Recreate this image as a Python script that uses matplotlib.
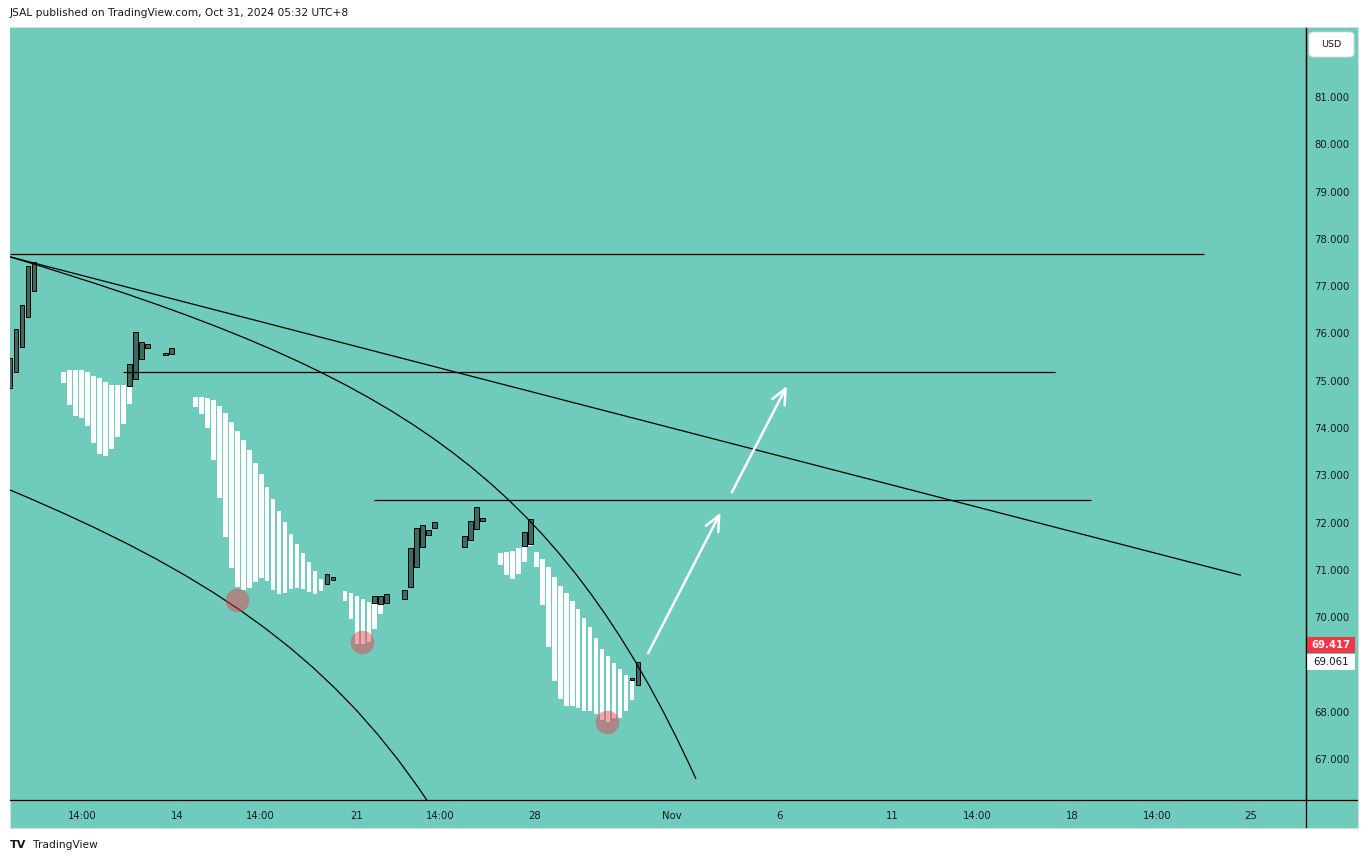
import numpy as np
import matplotlib
matplotlib.use("Agg")
import matplotlib.pyplot as plt
from matplotlib.patches import Rectangle, FancyBboxPatch, PathPatch
from matplotlib.path import Path
from matplotlib.transforms import blended_transform_factory

plt.rcParams['font.family'] = ['DejaVu Sans']

# 4h candles, x = candle index; white = falling bars, dark = rising bars
white_k = [8, 9, 10, 11, 12, 13, 14, 15, 16, 17, 18, 19,
           30, 31, 32, 33, 34, 35, 36, 37, 38, 39, 40, 41, 42, 43, 44, 45, 46, 47, 48, 49, 50, 51, 52,
           55, 56, 57, 58, 59, 60, 61,
           81, 82, 83, 84, 85, 86, 87, 88, 89, 90, 91, 92, 93, 94, 95, 96, 97, 98, 99, 100, 101, 102, 103, 104]
white_hi = [75.19, 75.23, 75.23, 75.23, 75.19, 75.10, 75.06, 74.97, 74.91, 74.91, 74.91, 74.89,
            74.66, 74.66, 74.64, 74.59, 74.47, 74.32, 74.13, 73.94, 73.75, 73.54, 73.26, 73.03, 72.75,
            72.50, 72.25, 72.01, 71.76, 71.55, 71.36, 71.17, 70.98, 70.81, 70.70,
            70.55, 70.51, 70.45, 70.39, 70.32, 70.30, 70.28,
            71.36, 71.38, 71.40, 71.46, 71.51, 71.55, 71.38, 71.23, 71.06, 70.85, 70.66, 70.51, 70.34,
            70.17, 69.98, 69.79, 69.56, 69.33, 69.18, 69.03, 68.90, 68.78, 68.67, 68.57]
white_lo = [74.95, 74.49, 74.25, 74.21, 74.04, 73.68, 73.45, 73.41, 73.56, 73.81, 74.09, 74.51,
            74.45, 74.30, 74.00, 73.32, 72.52, 71.70, 71.04, 70.64, 70.58, 70.62, 70.74, 70.83, 70.77,
            70.58, 70.49, 70.51, 70.60, 70.62, 70.60, 70.53, 70.49, 70.55, 70.68,
            70.34, 69.96, 69.43, 69.43, 69.48, 69.75, 70.07,
            71.10, 70.89, 70.81, 70.91, 71.17, 71.51, 71.06, 70.26, 69.37, 68.65, 68.27, 68.12, 68.12,
            68.08, 68.02, 68.02, 67.95, 67.83, 67.78, 67.87, 67.87, 68.02, 68.25, 68.55]

dark_k = [-1, 0, 1, 2, 3, 19, 20, 21, 22, 25, 26, 52, 53, 60, 61, 62, 65, 66, 67, 68, 69, 70,
          75, 76, 77, 78, 85, 86, 103, 104]
dark_hi = [75.48, 76.09, 76.60, 77.43, 77.51, 75.35, 76.03, 75.82, 75.78, 75.59, 75.69, 70.91, 70.85,
           70.45, 70.45, 70.49, 70.58, 71.46, 71.89, 71.95, 71.84, 72.01, 71.72, 72.03, 72.33, 72.10,
           71.80, 72.08, 68.71, 69.05]
dark_lo = [74.85, 75.18, 75.71, 76.35, 76.90, 74.89, 75.04, 75.46, 75.69, 75.54, 75.57, 70.70, 70.79,
           70.30, 70.28, 70.30, 70.39, 70.64, 71.06, 71.48, 71.74, 71.89, 71.48, 71.63, 71.87, 72.03,
           71.51, 71.55, 68.67, 68.57]

# drawings
hlines_y = [77.67, 75.19, 72.47]
hlines_x0 = [-1.0, 17.9, 59.9]
hlines_x1 = [198.7, 173.7, 179.8]
trend_k = [-1.0, 204.7]
trend_p = [77.62, 70.89]
upper_curve = [(-1.0, 77.62), (62.5, 75.20), (90.3, 73.09), (113.7, 66.58)]
lower_curve = [(-1.0, 72.69), (30.8, 71.00), (52.0, 69.30), (68.7, 66.13)]
arrows = [((105.7, 69.24), (117.8, 72.21)), ((119.7, 72.64), (128.9, 74.89))]
dot_k = [37.0, 57.9, 98.8]
dot_p = [70.36, 69.48, 67.78]

price_ticks = [67, 68, 70, 71, 72, 73, 74, 75, 76, 77, 78, 79, 80, 81]
time_ticks = [11.0, 26.9, 40.8, 56.9, 70.9, 86.8, 109.7, 127.6, 146.5, 160.7, 176.6, 190.8, 206.5]
time_labels = ['14:00', '14', '14:00', '21', '14:00', '28', 'Nov', '6', '11', '14:00', '18', '14:00', '25']
last_price = 69.061
tag_price = 69.417

teal = '#6fccbc'
txt = '#131722'
W, H = 1369, 863

fig = plt.figure(figsize=(W / 100, H / 100), dpi=100)
fig.patch.set_facecolor('white')
# chart panel incl. price / time scale
fig.add_artist(Rectangle((9.5 / W, 1 - 827.5 / H), 1348 / W, 800 / H, transform=fig.transFigure,
                         facecolor=teal, edgecolor='#d6dcdb', lw=0.8, zorder=0))

ax = fig.add_axes([10 / W, 1 - 800 / H, 1296 / W, 772 / H])
ax.set_facecolor(teal)
ax.set_xlim(-1.0, 215.7)
ax.set_ylim(66.134, 82.459)

bw = 0.78
ax.bar(white_k, np.array(white_hi) - np.array(white_lo), bottom=white_lo, width=bw,
       color='white', linewidth=0, zorder=2)
ax.bar(dark_k, np.array(dark_hi) - np.array(dark_lo), bottom=dark_lo, width=bw,
       color='#3e6b60', edgecolor='black', linewidth=0.7, zorder=2.5)

for y, x0, x1 in zip(hlines_y, hlines_x0, hlines_x1):
    ax.hlines(y, x0, x1, color='black', lw=0.9, zorder=3)
ax.plot(trend_k, trend_p, color='black', lw=0.9, zorder=3)
codes = [Path.MOVETO, Path.CURVE4, Path.CURVE4, Path.CURVE4]
for pts in (upper_curve, lower_curve):
    ax.add_patch(PathPatch(Path(pts, codes), fill=False, edgecolor='black', lw=0.9, zorder=3))

for start, end in arrows:
    ax.annotate('', xy=end, xytext=start, zorder=4,
                arrowprops=dict(arrowstyle='->,head_length=1.1,head_width=0.5', color='white',
                                lw=1.8, shrinkA=0, shrinkB=0, mutation_scale=10))

ax.scatter(dot_k, dot_p, s=290, color='#f23645', alpha=0.45, linewidths=0, zorder=5)

# axes styling
for s in ('top', 'left'):
    ax.spines[s].set_visible(False)
ax.spines['right'].set_color('black')
ax.spines['bottom'].set_color('black')
ax.spines['right'].set_linewidth(0.9)
ax.spines['bottom'].set_linewidth(0.9)
ax.yaxis.tick_right()
ax.set_yticks(price_ticks)
ax.set_yticklabels([f'{p:.3f}' for p in price_ticks])
ax.set_xticks(time_ticks)
ax.set_xticklabels(time_labels)
ax.tick_params(axis='both', length=0, labelsize=7.3, labelcolor=txt)
ax.tick_params(axis='y', pad=6)
ax.tick_params(axis='x', pad=8)

# extend axis lines across the scale areas
fig.add_artist(plt.Line2D([1306 / W, 1306 / W], [1 - 827 / H, 1 - 28 / H], transform=fig.transFigure,
                          color='black', lw=0.9))
fig.add_artist(plt.Line2D([1306 / W, 1357 / W], [1 - 800 / H, 1 - 800 / H], transform=fig.transFigure,
                          color='black', lw=0.9))

# price tags on the scale
bt = blended_transform_factory(fig.transFigure, ax.transData)
tag_h = 16 / 47.29
for price, fc, tc, fw in ((tag_price, '#f23645', 'white', 'bold'), (last_price, 'white', txt, 'normal')):
    ax.add_patch(Rectangle((1306.5 / W, price - tag_h / 2), 48 / W, tag_h, transform=bt,
                           facecolor=fc, edgecolor='none', clip_on=False, zorder=6))
    ax.text(1331 / W, price, f'{price:.3f}', transform=bt, ha='center', va='center',
            fontsize=7.3, color=tc, fontweight=fw, clip_on=False, zorder=7)

# currency box
fig.add_artist(FancyBboxPatch((1309 / W, 1 - 57 / H), 45 / W, 25 / H, transform=fig.transFigure,
                              boxstyle='round,pad=0,rounding_size=0.004', facecolor='white',
                              edgecolor='#d6dcdb', lw=0.6))
fig.text(1331 / W, 1 - 44.5 / H, 'USD', ha='center', va='center', fontsize=6.8, color=txt)

fig.text(10 / W, 1 - 13 / H, 'JSAL published on TradingView.com, Oct 31, 2024 05:32 UTC+8',
         ha='left', va='center', fontsize=7.7, color=txt)
fig.text(10 / W, 1 - 845 / H, 'TV', ha='left', va='center', fontsize=8, fontweight='heavy', color=txt)
fig.text(33 / W, 1 - 845 / H, 'TradingView', ha='left', va='center', fontsize=7.7, color=txt)

fig.savefig('out.png', dpi=100, facecolor='white')
